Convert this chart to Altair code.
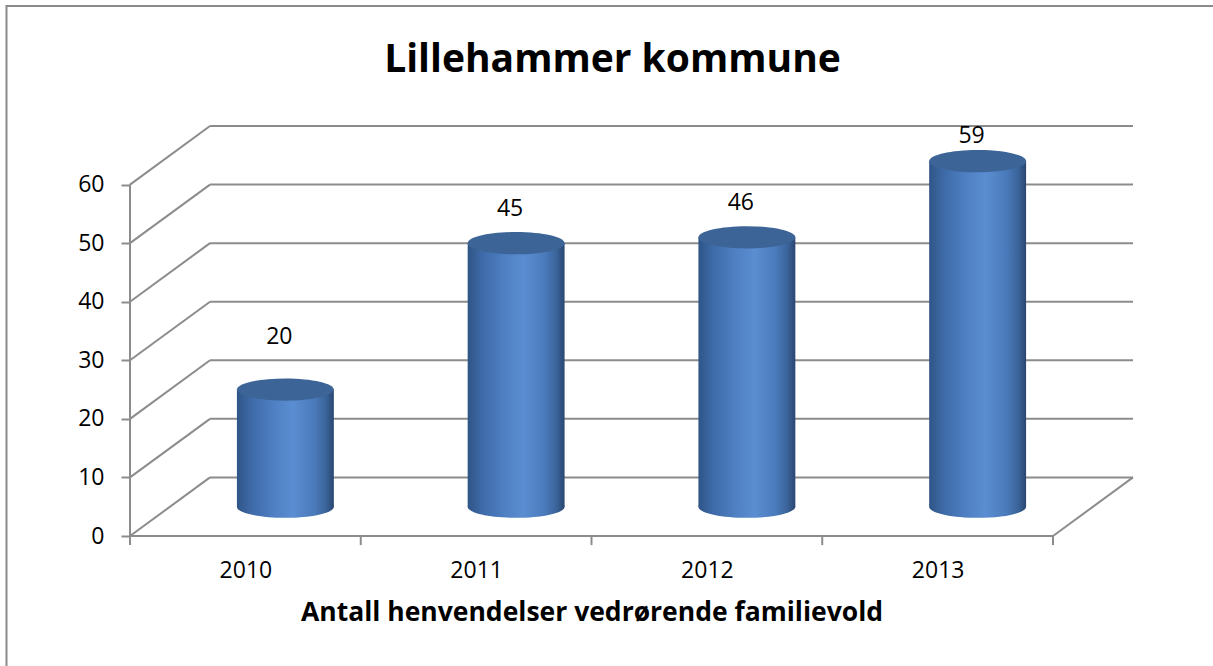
import json
import altair as alt
import pandas as pd

# ---------------- data ----------------
years = ["2010", "2011", "2012", "2013"]
values = [20, 45, 46, 59]
y_ticks = [0, 10, 20, 30, 40, 50, 60]

title_text = "Lillehammer kommune"
x_title = "Antall henvendelser vedrørende familievold"

# ---------------- geometry of the 3D box (in scale units) ----------------
n = len(years)
DEPTH_X = 0.3467   # depth offset, category units
DEPTH_Y = 10       # depth offset, value units
HALF_W = 0.21      # half cylinder width, category units
Y_MAX = 70
PLOT_W, PLOT_H = 1003, 410
PX_PER_CAT = PLOT_W / (n + DEPTH_X)
CYL_PX = 2 * HALF_W * PX_PER_CAT

FONT = "Open Sans"
GRID = "#8c8c8c"

bars = pd.DataFrame({"year": years, "value": values, "i": list(range(n))})
bars["cx"] = bars["i"] + 0.5 + DEPTH_X / 2
bars["x1"] = bars["cx"] - HALF_W
bars["x2"] = bars["cx"] + HALF_W
bars["base"] = DEPTH_Y / 2
bars["top"] = DEPTH_Y / 2 + bars["value"]
bars["label_y"] = 16.3 + 0.88 * bars["value"]

# line segments of the 3D frame, built from the tick list
segs = []
for t in y_ticks:
    segs.append({"x": 0, "y": t, "x2": DEPTH_X, "y2": t + DEPTH_Y})            # side wall
    segs.append({"x": DEPTH_X, "y": t + DEPTH_Y, "x2": n + DEPTH_X, "y2": t + DEPTH_Y})  # back wall
segs.append({"x": 0, "y": 0, "x2": n, "y2": 0})                      # front floor edge
segs.append({"x": n, "y": 0, "x2": n + DEPTH_X, "y2": DEPTH_Y})      # right floor edge
segs.append({"x": 0, "y": 0, "x2": 0, "y2": y_ticks[-1]})            # value axis line
for k in range(n + 1):
    segs.append({"x": k, "y": 0, "x2": k, "y2": -1.55})              # category ticks
segs = pd.DataFrame(segs)

xs = alt.Scale(domain=[0, n + DEPTH_X], nice=False, zero=False)
ys = alt.Scale(domain=[0, Y_MAX], nice=False, zero=False)

label_expr = json.dumps(years) + "[floor(datum.value)]"

x_axis = alt.Axis(values=[k + 0.5 for k in range(n)], labelExpr=label_expr,
                  ticks=False, domain=False, grid=False,
                  labelFont=FONT, labelFontSize=23, labelColor="black",
                  labelPadding=23, labelFlush=False,
                  title=x_title, titleFont=FONT, titleFontSize=26.5,
                  titleFontWeight="bold", titleColor="black",
                  titlePadding=17, titleX=n / 2 * PX_PER_CAT, titleAlign="center")
y_axis = alt.Axis(values=y_ticks, ticks=True, tickSize=9, tickColor=GRID, tickWidth=2,
                  domain=False, grid=False, labelFont=FONT, labelFontSize=23,
                  labelColor="black", labelPadding=17, title=None)


def X(field):
    return alt.X(field, scale=xs, axis=x_axis)


def Y(field):
    return alt.Y(field, scale=ys, axis=y_axis)


frame_lines = alt.Chart(segs).mark_rule(color=GRID, strokeWidth=2).encode(
    x=X("x:Q"), y=Y("y:Q"), x2="x2:Q", y2="y2:Q",
)

border = alt.Chart(pd.DataFrame({"a": [0]})).mark_rect(
    fill=None, stroke="#8a8a8a", strokeWidth=2
).encode(
    x=alt.value(-123.5), x2=alt.value(1100),
    y=alt.value(-120), y2=alt.value(560),
)

title_layer = alt.Chart(pd.DataFrame({"t": [title_text]})).mark_text(
    font=FONT, fontSize=39, fontWeight="bold", color="black",
    align="center", baseline="alphabetic",
).encode(
    text="t:N", x=alt.value(612.5 - 130), y=alt.value(72 - 126),
)

body_grad = alt.LinearGradient(
    gradient="linear", x1=0, x2=1, y1=0, y2=0,
    stops=[
        alt.GradientStop(color="#2f5586", offset=0),
        alt.GradientStop(color="#3e6aa8", offset=0.15),
        alt.GradientStop(color="#4f80c3", offset=0.38),
        alt.GradientStop(color="#5a8dd1", offset=0.58),
        alt.GradientStop(color="#4a7aba", offset=0.8),
        alt.GradientStop(color="#3a6399", offset=0.92),
        alt.GradientStop(color="#2a4670", offset=1),
    ],
)

k = 0.23
c = 0.5523
ELLIPSE = (f"M -1 0 C -1 {-c*k:.4f} {-c:.4f} {-k} 0 {-k} "
           f"C {c:.4f} {-k} 1 {-c*k:.4f} 1 0 "
           f"C 1 {c*k:.4f} {c:.4f} {k} 0 {k} "
           f"C {-c:.4f} {k} -1 {c*k:.4f} -1 0 Z")

base = alt.Chart(bars)

bottom_cap = base.mark_point(shape=ELLIPSE, size=CYL_PX ** 2, filled=True,
                             fill=body_grad, strokeWidth=0, opacity=1).encode(
    x=X("cx:Q"), y=Y("base:Q"),
)

body = base.mark_bar(fill=body_grad, strokeWidth=0).encode(
    x=X("x1:Q"), x2="x2:Q", y=Y("base:Q"), y2="top:Q",
)

top_cap = base.mark_point(shape=ELLIPSE, size=CYL_PX ** 2, filled=True,
                          fill="#3c6497", strokeWidth=0, opacity=1).encode(
    x=X("cx:Q"), y=Y("top:Q"),
)

labels = base.mark_text(font=FONT, fontSize=23, color="black", dx=-6,
                        baseline="middle", align="center").encode(
    x=X("cx:Q"), y=Y("label_y:Q"), text=alt.Text("value:Q"),
)

chart = alt.layer(frame_lines, border, title_layer, bottom_cap, body, top_cap, labels).properties(
    width=PLOT_W, height=PLOT_H,
    autosize=alt.AutoSizeParams(type="none"),
    padding={"left": 130, "top": 126, "right": 80, "bottom": 130},
    background="white",
).configure_view(stroke=None)

chart.save("out.html", embed_options={"renderer": "svg", "actions": False})
